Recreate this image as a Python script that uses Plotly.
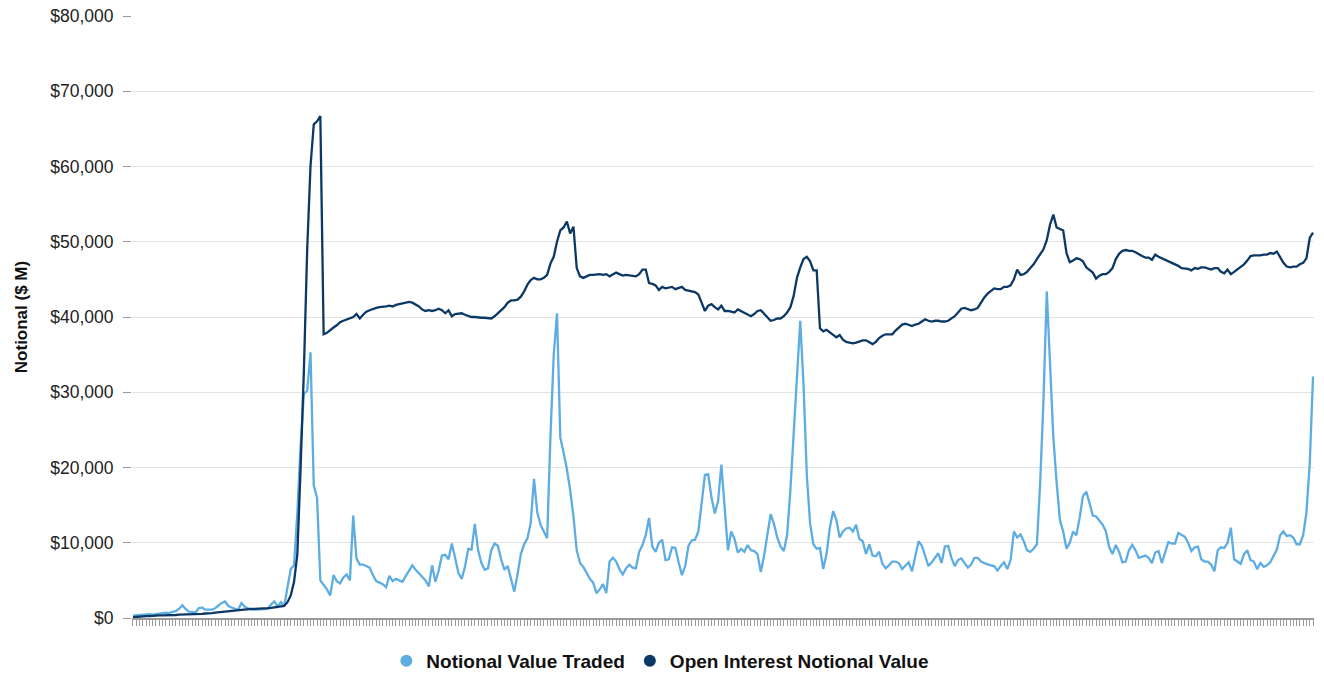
import plotly.graph_objects as go

open_interest = [
    100,150,200,200,250,250,300,300,350,350,
    350,400,400,400,450,450,450,500,500,500,
    550,550,600,600,650,700,750,800,900,950,
    1000,1000,1050,1100,1150,1200,1200,1200,1200,1250,
    1250,1300,1350,1400,1450,1500,1600,2100,3000,4800,
    8500,20000,33000,49000,60000,65600,66000,66700,37700,37900,
    38300,38600,38900,39300,39500,39700,39900,40000,40400,39800,
    40300,40700,40900,41100,41200,41300,41300,41400,41500,41400,
    41600,41700,41800,41900,42000,41900,41700,41400,41000,40800,
    40900,40800,40900,41100,40900,40500,40900,40100,40400,40500,
    40500,40300,40100,40000,40000,39900,39900,39900,39800,39800,
    40100,40500,40800,41300,41900,42200,42200,42300,42700,43400,
    44300,44900,45200,45000,45000,45200,45600,47100,48000,50000,
    51500,51900,52700,51100,52000,46500,45400,45200,45400,45600,
    45600,45700,45700,45600,45700,45400,45600,45900,45700,45500,
    45600,45500,45500,45400,45700,46300,46300,44500,44400,44200,
    43600,44000,43800,43900,44000,43700,43900,44000,43600,43500,
    43400,43300,43000,41900,40800,41500,41700,41300,41000,41500,
    40800,40800,40700,40600,41000,40800,40600,40300,40100,40400,
    40800,40900,40400,40000,39500,39600,39800,39800,40100,40600,
    41300,42800,45200,46600,47700,48000,47400,46200,46200,38500,
    38100,38300,38000,37700,37300,37600,37000,36700,36600,36500,
    36600,36800,36900,36900,36700,36400,36700,37200,37500,37700,
    37700,37700,38200,38600,39000,39100,38900,38800,39000,39100,
    39400,39700,39500,39400,39500,39500,39400,39400,39500,39800,
    40100,40600,41100,41200,41000,40900,41000,41200,41900,42600,
    43100,43500,43800,43700,43700,44000,44000,44200,45000,46300,
    45600,45700,46000,46500,47000,47700,48400,49000,50200,52300,
    53600,51900,51700,51500,48500,47300,47500,47800,47700,47400,
    46600,46200,45900,45100,45500,45700,45700,46000,46500,47700,
    48400,48800,48900,48800,48800,48600,48300,48100,47900,47900,
    47600,48300,48000,47800,47600,47400,47300,47000,46800,46500,
    46500,46400,46200,46500,46400,46600,46600,46400,46300,46500,
    46500,46000,45800,46300,45700,46000,46300,46600,47000,47500,
    48100,48200,48200,48200,48300,48300,48500,48400,48700,48000,
    47200,46700,46600,46700,46700,47000,47200,47800,50500,51200,
]

value_traded = [
    300,350,400,350,450,500,450,550,600,650,
    700,650,800,900,1200,1700,1200,850,800,700,
    1300,1400,1100,1100,1100,1300,1700,2000,2200,1600,
    1400,1200,1100,2000,1500,1300,1100,1100,1100,1100,
    1100,1200,1800,2200,1500,2100,1600,4000,6500,7000,
    14000,23000,29800,30200,35300,17600,16000,5000,4400,3800,
    3000,5700,4900,4600,5400,5800,5000,13600,7900,7100,
    7100,6900,6700,5700,4900,4700,4500,4100,5600,4900,
    5200,5000,4800,5600,6400,7000,6400,5900,5500,5000,
    4200,7000,4800,6300,8300,8400,7800,9900,8000,6000,
    5200,6800,9200,9100,12500,9000,7300,6400,6600,9000,
    9900,9600,7800,6400,6900,5000,3500,5800,8500,9800,
    10600,12600,18500,14000,12400,11500,10600,24000,35000,40500,
    24000,22000,19800,17000,13500,9000,7300,6800,6000,5200,
    4700,3300,3800,4500,3300,7500,8000,7500,6500,5800,
    6600,7100,6700,6600,8800,9700,11000,13300,9500,8800,
    10000,10400,7700,7800,9400,9300,7400,5700,6900,9600,
    10300,10400,11500,15000,19000,19100,16000,13900,15500,20400,
    14800,9000,11500,10500,8700,9200,8800,9700,9000,8900,
    8500,6100,8300,10800,13800,12500,10700,9500,8900,11000,
    17000,24500,32000,39500,31000,19000,12500,9800,9200,9300,
    6500,8500,12000,14200,13000,10700,11500,11900,12000,11500,
    12400,10500,10200,8500,9800,8300,8200,8800,7200,6600,
    7000,7500,7500,7300,6500,6900,7400,6200,8000,10200,
    9600,8300,6900,7400,8000,8600,7300,9500,9600,8000,
    6900,7700,7900,7300,6700,7100,8000,8000,7500,7300,
    7100,7000,6900,6300,6900,7400,6500,7700,11500,10700,
    11100,10200,9000,8800,9200,9800,18000,29000,43400,33000,
    24000,18000,13000,11500,9200,10000,11500,11000,13300,16200,
    16800,15300,13600,13500,13000,12400,11500,9400,8500,9700,
    8800,7400,7500,9000,9700,9000,8000,8100,8300,8000,
    7300,8700,8900,7300,8700,10100,9900,9900,11300,11000,
    10800,10000,8900,9400,9500,7800,7500,7500,7100,6200,
    9000,9400,9300,10000,12000,7800,7500,7200,8500,9000,
    7700,7500,6500,7300,6800,7000,7400,8200,9100,11000,
    11500,10900,11000,10700,9800,9800,11000,14000,20500,32100,
]

periods = list(range(len(value_traded)))
series_names = ["Notional Value Traded", "Open Interest Notional Value"]
light_blue = "#5DADE2"
navy = "#0C3866"

fig = go.Figure()
fig.add_trace(go.Scatter(x=periods, y=value_traded, mode="lines",
                         line=dict(color=light_blue, width=2.3),
                         showlegend=False, hoverinfo="skip"))
fig.add_trace(go.Scatter(x=periods, y=open_interest, mode="lines",
                         line=dict(color=navy, width=2.3),
                         showlegend=False, hoverinfo="skip"))
# legend entries (circle markers only)
for name, col in zip(series_names, [light_blue, navy]):
    fig.add_trace(go.Scatter(x=[None], y=[None], mode="markers", name=name,
                             marker=dict(color=col, size=12, symbol="circle")))

fig.update_layout(
    width=1324, height=675,
    margin=dict(l=132, r=10, t=16, b=57, autoexpand=False),
    paper_bgcolor="white", plot_bgcolor="white",
    font=dict(family="Liberation Sans, Arial, sans-serif", color="#222"),
    legend=dict(orientation="h", x=0.447, xanchor="center",
                yref="container", y=0.021, yanchor="middle",
                font=dict(size=19, color="#111", family="Liberation Sans, Arial, sans-serif",
                          weight="bold"),
                itemsizing="constant", tracegroupgap=0),
    xaxis=dict(range=[-0.3, len(periods) - 0.7], showgrid=False, zeroline=False,
               automargin=False,
               showline=True, linecolor="#9a9a9a", linewidth=2,
               ticks="outside", ticklen=6, tickwidth=1, tickcolor="#9a9a9a",
               tickmode="linear", tick0=0, dtick=1, showticklabels=False),
    yaxis=dict(range=[0, 80000], tickmode="linear", tick0=0, dtick=10000,
               automargin=False,
               tickprefix="$", tickformat=",d", showgrid=True, gridcolor="#e3e3e3",
               gridwidth=1, zeroline=False, showline=False,
               ticks="outside", ticklen=8, tickcolor="#9a9a9a", tickwidth=1,
               ticklabelstandoff=6,
               tickfont=dict(size=17.5, color="#222"),
               title=dict(text="Notional ($ M)", standoff=18,
                          font=dict(size=17, color="#111", weight="bold"))),
)

fig.write_html("out.html",
               config={"displayModeBar": False, "staticPlot": True},
               post_script="document.body.style.margin='0';document.body.style.overflow='hidden';")
